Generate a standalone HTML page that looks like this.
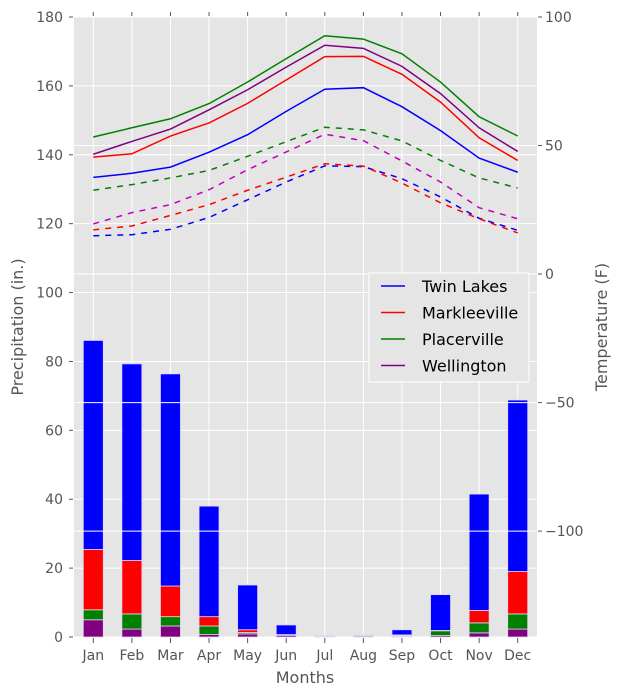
<!DOCTYPE html>
<html><head><meta charset="utf-8">
<style>
html,body{margin:0;padding:0;background:#fff;}
svg{display:block;font-family:"DejaVu Sans","Liberation Sans",sans-serif;}
</style></head>
<body>
<svg id="chart" width="621" height="697" viewBox="0 0 621 697" xmlns="http://www.w3.org/2000/svg">
<rect x="74" y="17" width="463" height="620" fill="#e5e5e5"/>
<g id="grid1"></g><g id="bars"></g><g id="grid2"></g><g id="lines"></g><g id="axes"></g>
<g>
<rect x="369" y="273" width="160" height="109" fill="#e5e5e5" stroke="#ffffff" stroke-width="1"/>
<g id="legend-items"></g>
</g>
<text x="305" y="683" font-size="16" fill="#555" text-anchor="middle">Months</text>
<text transform="translate(23,327) rotate(-90)" font-size="16" fill="#555" text-anchor="middle">Precipitation (in.)</text>
<text transform="translate(607,327) rotate(-90)" font-size="16" fill="#555" text-anchor="middle">Temperature (F)</text>
</svg>
<script>
const months=["Jan","Feb","Mar","Apr","May","Jun","Jul","Aug","Sep","Oct","Nov","Dec"];
const precipWellington=[5.0,2.3,3.2,0.7,0.9,0.5,0.2,0.3,0.2,0.4,1.2,2.3];
const precipPlacerville=[2.9,4.4,2.7,2.5,0.4,0.1,0.05,0.1,0.2,1.4,2.9,4.4];
const precipMarkleeville=[17.5,15.5,8.9,2.7,0.8,0.1,0.05,0.1,0.2,0.1,3.6,12.3];
const precipTwinLakes=[60.7,57.1,61.6,32.1,13.0,2.8,0.1,0.1,1.5,10.4,33.8,49.8];
const highTwinLakes=[37.6,39.2,41.6,47.4,54.2,63.3,71.9,72.5,65.1,55.8,45.1,39.6];
const lowTwinLakes=[14.9,15.3,17.4,22.0,28.9,35.8,42.1,41.8,37.1,30.0,21.7,17.0];
const highMarkleeville=[45.5,46.8,53.7,58.8,66.4,75.5,84.6,84.7,77.7,66.9,53.0,44.2];
const lowMarkleeville=[17.2,18.7,22.8,27.0,32.6,37.7,42.9,42.0,35.4,27.7,21.5,16.0];
const highPlacerville=[53.3,56.9,60.4,66.3,74.7,83.8,92.7,91.4,85.7,74.7,61.2,53.7];
const lowPlacerville=[32.6,34.8,37.4,40.3,45.8,51.5,57.1,56.1,51.8,44.2,37.4,33.5];
const highWellington=[46.6,51.6,56.4,63.9,71.7,80.5,89.0,87.8,80.8,70.2,56.9,47.7];
const lowWellington=[19.5,23.9,27.0,32.8,40.6,47.5,54.4,51.9,44.0,35.8,25.8,21.5];
const leftTicks=[0,20,40,60,80,100,120,140,160,180];
const rightTicks=[-100,-50,0,50,100];

const NS="http://www.w3.org/2000/svg";
const L=74,R=537,T=17,B=637;
const xs=i=>L+(i+0.5)*(R-L)/12;
const y1=v=>B-(v/180)*(B-T);
const y2=v=>B-((v+141.2)/241.2)*(B-T);
function mk(tag,attrs,parent){const e=document.createElementNS(NS,tag);for(const k in attrs)e.setAttribute(k,attrs[k]);parent.appendChild(e);return e;}
const g1=document.getElementById('grid1'),g2=document.getElementById('grid2'),gb=document.getElementById('bars'),gl=document.getElementById('lines'),ga=document.getElementById('axes');
leftTicks.forEach(v=>{
  const ln=mk('line',{x1:L,x2:R,y1:y1(v),y2:y1(v),stroke:'#fff','stroke-width':1},g1);
  
  
  mk('line',{x1:L-5,x2:L-1,y1:y1(v),y2:y1(v),stroke:'#555'},ga);
  const t=mk('text',{x:L-11,y:y1(v)+5,'font-size':14,fill:'#555','text-anchor':'end'},ga);
  t.textContent=v;
  
  
});
months.forEach((m,i)=>{
  const x=xs(i);
  const ln=mk('line',{x1:x,x2:x,y1:T,y2:B,stroke:'#fff','stroke-width':1},g1);
  
  
  mk('line',{x1:x,x2:x,y1:B+1,y2:B+6,stroke:'#555'},ga);
  mk('line',{x1:x,x2:x,y1:T-5,y2:T-1,stroke:'#555'},ga);
  const t=mk('text',{x:x,y:B+23,'font-size':14,fill:'#555','text-anchor':'middle'},ga);
  t.textContent=m;
  
  
});
const stacks=[[precipWellington,'#800080','wellington'],[precipPlacerville,'#008000','placerville'],[precipMarkleeville,'#ff0000','markleeville'],[precipTwinLakes,'#0000ff','twin-lakes']];
months.forEach((m,i)=>{
  let base=0;const w=20;
  stacks.forEach(([arr,col,nm])=>{
    const v=arr[i];
    const r=mk('rect',{x:xs(i)-w/2,y:y1(base+v),width:w,height:Math.max(0,y1(base)-y1(base+v)),fill:col,stroke:'#e0d8f0','stroke-width':0.8},gb);
    
    
    base+=v;
  });
});
rightTicks.forEach(v=>{
  const ln=mk('line',{x1:L,x2:R,y1:y2(v),y2:y2(v),stroke:'#fff','stroke-width':1},g2);
  
  
  mk('line',{x1:R+1,x2:R+5,y1:y2(v),y2:y2(v),stroke:'#555'},ga);
  const t=mk('text',{x:R+8,y:y2(v)+5,'font-size':14,fill:'#555'},ga);
  t.textContent=v<0?'\u2212'+(-v):v;
  
  
});
const series=[[highTwinLakes,'#0000ff',false,'twin-lakes-high'],[lowTwinLakes,'#0000ff',true,'twin-lakes-low'],
[highMarkleeville,'#ff0000',false,'markleeville-high'],[lowMarkleeville,'#ff0000',true,'markleeville-low'],
[highPlacerville,'#008000',false,'placerville-high'],[lowPlacerville,'#008000',true,'placerville-low'],
[highWellington,'#800080',false,'wellington-high'],[lowWellington,'#bf00bf',true,'wellington-low']];
series.forEach(([arr,col,dash,nm])=>{
  const p=mk('polyline',{points:arr.map((v,i)=>xs(i)+','+y2(v)).join(' '),fill:'none',stroke:col,'stroke-width':1.5},gl);
  if(dash)p.setAttribute('stroke-dasharray','6,6');
  
  
});
const leg=document.getElementById('legend-items');
[['Twin Lakes','#0000ff'],['Markleeville','#ff0000'],['Placerville','#008000'],['Wellington','#800080']].forEach(([n,c],k)=>{
  const y=286+k*26.5;
  mk('line',{x1:381,x2:405,y1:y,y2:y,stroke:c,'stroke-width':1.5},leg);
  const t=mk('text',{x:422,y:y+6,'font-size':16,fill:'#000'},leg);
  t.textContent=n;
  
  
});
</script>
</body></html>
